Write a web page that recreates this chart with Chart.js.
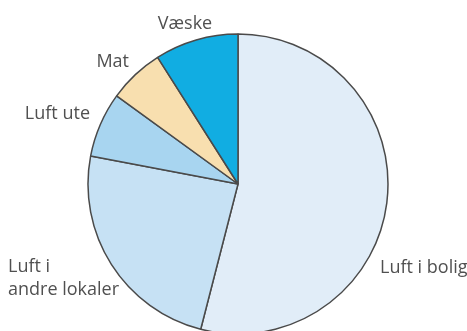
<!DOCTYPE html>
<html>
<head>
<meta charset="utf-8">
<script src="https://cdn.jsdelivr.net/npm/chart.js@4"></script>
<style>
  html, body { margin: 0; padding: 0; background: #fff; overflow: hidden; }
  #wrap { width: 467px; height: 331px; overflow: hidden; }
</style>
</head>
<body>
<div id="wrap"><canvas id="pie" width="467" height="368"></canvas></div>
<script>
// Andeler (%) – kilder
const labels = ['Luft i bolig', 'Luft i andre lokaler', 'Luft ute', 'Mat', 'Væske'];
const values = [54, 24, 7, 6, 9];
const colors = ['#e1edf8', '#c6e1f4', '#a8d5f0', '#f8dfaf', '#11ade2'];

// tekstplassering for hver etikett (linjer, x, y, justering)
const labelLayout = [
  { lines: ['Luft i bolig'], x: 380, y: 268, align: 'left' },
  { lines: ['Luft i', 'andre lokaler'], x: 8, y: 267, align: 'left' },
  { lines: ['Luft ute'], x: 90, y: 114, align: 'right' },
  { lines: ['Mat'], x: 129, y: 62, align: 'right' },
  { lines: ['Væske'], x: 185, y: 24, align: 'center' }
];

const sliceLabels = {
  id: 'sliceLabels',
  afterDraw(chart) {
    const ctx = chart.ctx;
    ctx.save();
    ctx.font = '18px "Open Sans", sans-serif';
    ctx.fillStyle = '#505050';
    ctx.textBaseline = 'middle';
    labelLayout.forEach(l => {
      ctx.textAlign = l.align;
      l.lines.forEach((t, i) => ctx.fillText(t, l.x, l.y + i * 23));
    });
    ctx.restore();
  }
};

new Chart(document.getElementById('pie').getContext('2d'), {
  type: 'pie',
  data: {
    labels: labels,
    datasets: [{
      data: values,
      backgroundColor: colors,
      borderColor: '#4a4a4a',
      borderWidth: 1.5
    }]
  },
  options: {
    responsive: false,
    animation: false,
    devicePixelRatio: 1,
    radius: 150,
    layout: { padding: { left: 9, right: 0, top: 34, bottom: 34 } },
    plugins: {
      legend: { display: false },
      tooltip: { enabled: false }
    }
  },
  plugins: [sliceLabels]
});
</script>
</body>
</html>
